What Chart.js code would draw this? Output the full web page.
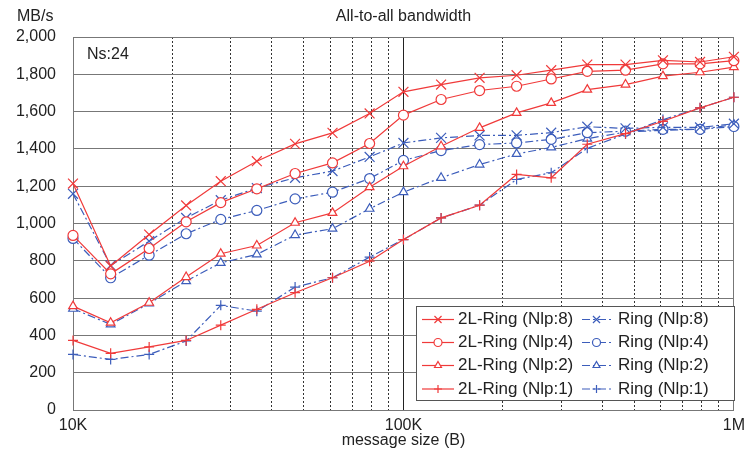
<!DOCTYPE html>
<html>
<head>
<meta charset="utf-8">
<title>All-to-all bandwidth</title>
<script src="https://cdn.jsdelivr.net/npm/chart.js@4.4.1/dist/chart.umd.min.js"></script>
<style>
  html, body { margin: 0; padding: 0; background: #fff; }
  #wrap { width: 751px; height: 450px; }
</style>
</head>
<body>
<div id="wrap"><canvas id="bwChart" width="751" height="450"></canvas></div>
<script>
// message sizes in bytes (10 points per decade)
const sizes = [10000, 13000, 17000, 22000, 28000, 36000, 47000, 61000, 79000,
  100000, 130000, 170000, 220000, 280000, 360000, 470000, 610000, 790000, 1000000];

// bandwidth, MB/s
const twoLRing8 = [1214, 772, 941, 1097, 1227, 1334, 1427, 1486, 1590, 1706, 1745, 1781, 1795, 1822, 1852, 1852, 1875, 1866, 1894];
const twoLRing4 = [936, 730, 866, 1009, 1112, 1186, 1268, 1325, 1429, 1581, 1665, 1713, 1736, 1775, 1816, 1822, 1856, 1856, 1873];
const twoLRing2 = [557, 468, 575, 713, 838, 882, 1004, 1057, 1195, 1307, 1414, 1513, 1593, 1647, 1718, 1745, 1790, 1811, 1838];
const twoLRing1 = [373, 304, 338, 373, 455, 540, 629, 709, 798, 914, 1030, 1098, 1263, 1245, 1425, 1482, 1548, 1620, 1677];
const ring8 = [1159, 775, 905, 1030, 1125, 1190, 1245, 1281, 1357, 1432, 1459, 1472, 1473, 1487, 1519, 1510, 1516, 1515, 1535];
const ring4 = [920, 709, 830, 945, 1022, 1070, 1132, 1168, 1241, 1338, 1391, 1423, 1432, 1451, 1487, 1495, 1505, 1505, 1520];
const ring2 = [543, 459, 571, 691, 789, 834, 938, 972, 1079, 1168, 1245, 1316, 1373, 1408, 1455, 1490, 1500, 1505, 1530];
const ring1 = [298, 271, 298, 370, 561, 530, 659, 709, 820, 914, 1030, 1098, 1236, 1272, 1403, 1480, 1557, 1620, 1677];

const xTickLabels = { 10000: '10K', 100000: '100K', 1000000: '1M' };
const yMin = 0, yMax = 2000, yStep = 200;

const RED = '#f03a3a';
const BLUE = '#3c5dbb';
const FONT = "'Liberation Sans', Arial, sans-serif";
const TEXT = '#222';

const makeSet = (label, values, color, style, dashed) => ({
  label,
  data: sizes.map((s, i) => ({ x: s, y: values[i] })),
  borderColor: color,
  backgroundColor: '#fff',
  borderWidth: 1.2,
  borderDash: dashed ? [8, 3, 2, 3] : [],
  pointStyle: style,
  pointRadius: style === 'crossRot' ? 7 : 5,
  pointBorderWidth: 1.2,
  pointBackgroundColor: '#fff',
  pointBorderColor: color,
  tension: 0,
  fill: false,
  clip: false
});

const isDecade = v => Math.abs(Math.log10(v) - Math.round(Math.log10(v))) < 1e-6;

// legend box drawn inside the plot, two columns
const boxLegend = {
  id: 'boxLegend',
  afterDatasetsDraw(chart) {
    const { ctx } = chart;
    const x0 = 416, y0 = 306, w = 318, h = 94;
    const rows = [319.5, 342.5, 365.5, 389];
    const cols = [{ l1: 422, l2: 454, tx: 458 }, { l1: 582, l2: 611, tx: 618 }];
    ctx.save();
    ctx.fillStyle = '#fff';
    ctx.fillRect(x0, y0, w, h);
    ctx.strokeStyle = '#555';
    ctx.lineWidth = 1;
    ctx.strokeRect(x0 + 0.5, y0 + 0.5, w, h);
    chart.data.datasets.forEach((ds, i) => {
      const c = cols[i < 4 ? 0 : 1];
      const y = rows[i % 4];
      ctx.save();
      ctx.strokeStyle = ds.borderColor;
      ctx.lineWidth = ds.borderWidth;
      ctx.setLineDash(ds.borderDash);
      ctx.beginPath();
      ctx.moveTo(c.l1, y);
      ctx.lineTo(c.l2, y);
      ctx.stroke();
      ctx.setLineDash([]);
      ctx.fillStyle = '#fff';
      Chart.helpers.drawPoint(ctx, {
        pointStyle: ds.pointStyle, rotation: 0,
        radius: ds.pointStyle === 'crossRot' ? 5 : 4, borderWidth: 1.1
      }, (c.l1 + c.l2) / 2, y);
      ctx.restore();
      ctx.fillStyle = TEXT;
      ctx.font = '17px ' + FONT;
      ctx.textAlign = 'left';
      ctx.textBaseline = 'middle';
      ctx.fillText(ds.label, c.tx, y);
    });
    ctx.restore();
  },
  afterDraw(chart) {
    const { ctx } = chart;
    ctx.save();
    ctx.fillStyle = TEXT;
    ctx.font = '16px ' + FONT;
    ctx.textAlign = 'left';
    ctx.textBaseline = 'middle';
    ctx.fillText('MB/s', 17, 17);
    ctx.fillText('Ns:24', 87, 55);
    ctx.restore();
  }
};

new Chart(document.getElementById('bwChart').getContext('2d'), {
  type: 'line',
  data: {
    datasets: [
      makeSet('2L-Ring (Nlp:8)', twoLRing8, RED, 'crossRot', false),
      makeSet('2L-Ring (Nlp:4)', twoLRing4, RED, 'circle', false),
      makeSet('2L-Ring (Nlp:2)', twoLRing2, RED, 'triangle', false),
      makeSet('2L-Ring (Nlp:1)', twoLRing1, RED, 'cross', false),
      makeSet('Ring (Nlp:8)', ring8, BLUE, 'crossRot', true),
      makeSet('Ring (Nlp:4)', ring4, BLUE, 'circle', true),
      makeSet('Ring (Nlp:2)', ring2, BLUE, 'triangle', true),
      makeSet('Ring (Nlp:1)', ring1, BLUE, 'cross', true)
    ]
  },
  options: {
    responsive: false,
    animation: false,
    devicePixelRatio: 1,
    layout: { padding: { left: 0, right: 11, top: 0, bottom: 0 } },
    plugins: {
      legend: { display: false },
      tooltip: { enabled: false },
      title: {
        display: true,
        text: 'All-to-all bandwidth',
        fullSize: false,
        color: TEXT,
        font: { family: FONT, size: 16, weight: 'normal', lineHeight: 1.2 },
        padding: { top: 7, bottom: 10.8 }
      }
    },
    scales: {
      x: {
        type: 'logarithmic',
        min: 10000,
        max: 1000000,
        afterBuildTicks: scale => {
          const t = [];
          for (let d = 10000; d < 1000000; d *= 10) {
            for (let k = 1; k < 10; k++) t.push({ value: d * k });
          }
          t.push({ value: 1000000 });
          scale.ticks = t;
        },
        afterFit: scale => { scale.height = 40; },
        ticks: {
          autoSkip: false,
          maxRotation: 0,
          padding: 6,
          color: TEXT,
          font: { family: FONT, size: 16 },
          callback: v => xTickLabels[v] || ''
        },
        grid: {
          drawTicks: false,
          color: c => {
            const v = c.tick ? c.tick.value : 0;
            if (v === 100000) return '#222';
            if (v === 10000 || v === 1000000) return '#777';
            return '#333';
          },
          lineWidth: 1
        },
        border: {
          color: '#777',
          dash: c => (c.tick && !isDecade(c.tick.value)) ? [2, 2] : []
        },
        title: {
          display: true,
          text: 'message size (B)',
          color: TEXT,
          font: { family: FONT, size: 16, lineHeight: 1 },
          padding: { top: 0, bottom: 1 }
        }
      },
      y: {
        min: yMin,
        max: yMax,
        afterFit: scale => { scale.width = 73; },
        ticks: {
          stepSize: yStep,
          padding: 17,
          color: TEXT,
          font: { family: FONT, size: 16 },
          callback: v => v.toLocaleString('en-US')
        },
        grid: { drawTicks: false, color: '#777', lineWidth: 1 },
        border: { color: '#777' }
      }
    }
  },
  plugins: [boxLegend]
});
</script>
</body>
</html>
